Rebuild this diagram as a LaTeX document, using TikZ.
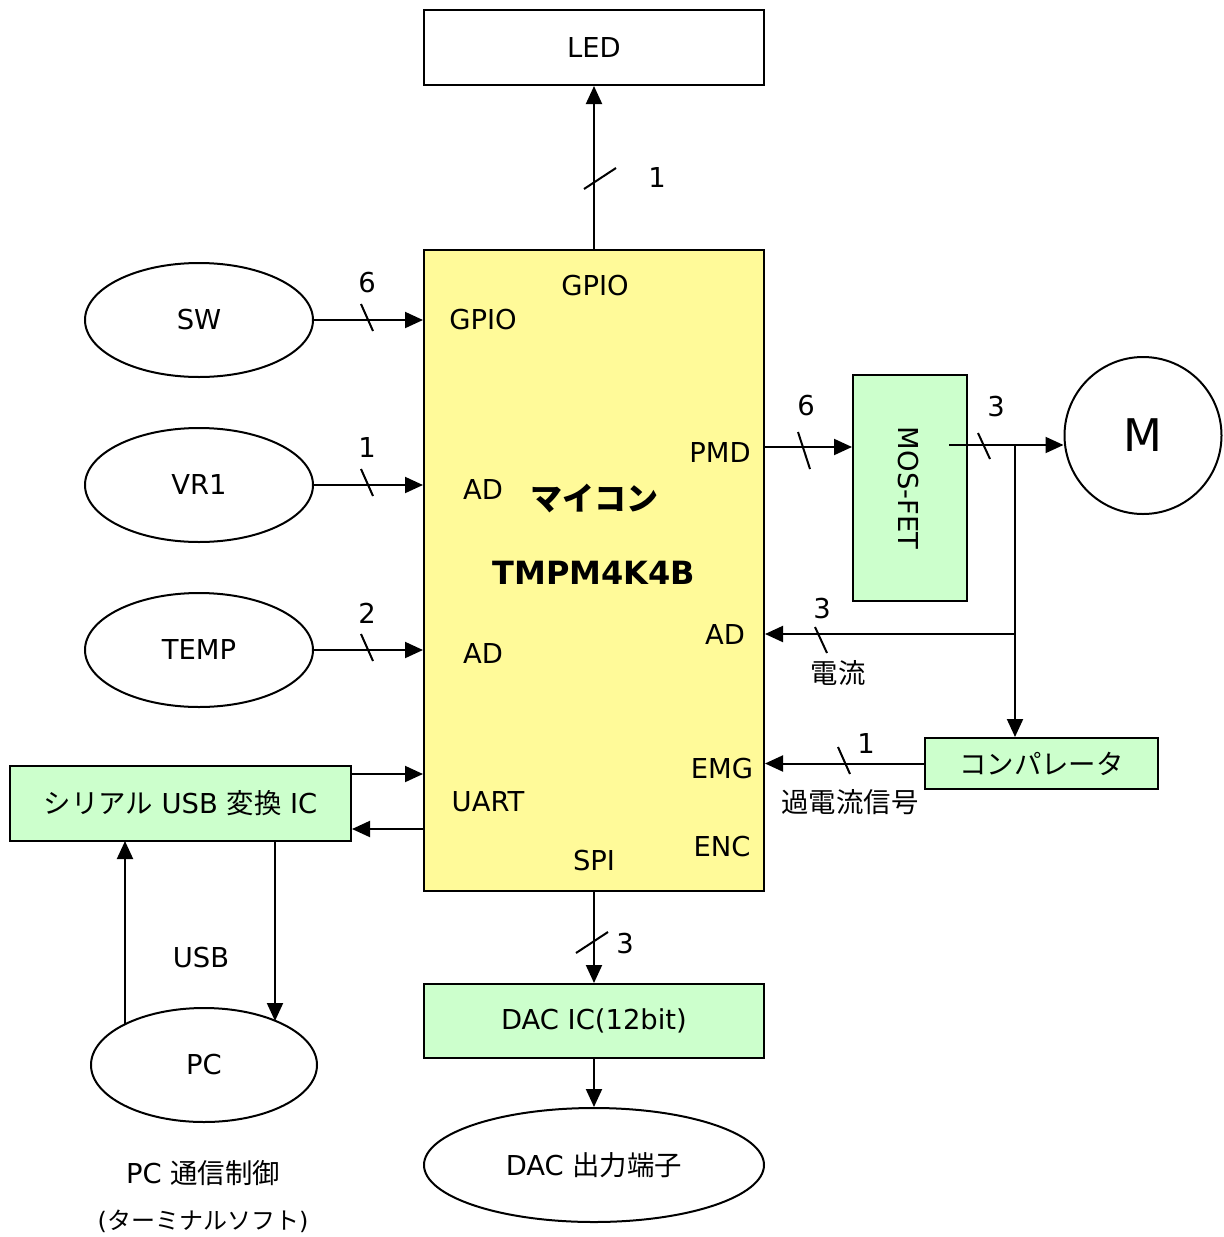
\documentclass[tikz,border=0pt]{standalone}
\usepackage{fontspec}
\setmainfont{DejaVu Sans}
\newfontfamily\jpfont{Noto Sans CJK JP}
\usetikzlibrary{shapes.geometric,arrows.meta}

\begin{document}
\begin{tikzpicture}[x=0.5pt, y=-0.5pt, line width=1pt,
    every node/.style={font=\fontsize{13.7}{16}\selectfont},
    blk/.style={draw, rectangle, inner sep=0pt},
    part/.style={blk, fill=green!20},
    oval/.style={draw, ellipse, inner sep=0pt, minimum width=114pt, minimum height=57pt},
    wire/.style={-{Triangle[length=9pt,width=8pt]}}]
    \useasboundingbox (0,0) rectangle (1223,1237);
    % Micon
    \node[blk, fill=yellow!40, minimum width=170pt, minimum height=320.5pt] (mcu) at (594,570.5) {};
    \node at (594,499) {\jpfont\bfseries\fontsize{16}{18}\selectfont マイコン};
    \node at (594,573) {\bfseries\fontsize{16}{18}\selectfont TMPM4K4B};
    \node at (595,286) {GPIO};
    \node at (483,320) {GPIO};
    \node at (483,490) {AD};
    \node at (483,654) {AD};
    \node at (488,802) {UART};
    \node at (594,861) {SPI};
    \node at (720,453) {PMD};
    \node at (725,635) {AD};
    \node at (722,769) {EMG};
    \node at (722,847) {ENC};
    % Blocks
    \node[blk, minimum width=170pt, minimum height=37.5pt] (led) at (594,47.5) {LED};
    \node[oval] (sw) at (199,320) {SW};
    \node[oval] (vr) at (199,485) {VR1};
    \node[oval] (temp) at (199,650) {TEMP};
    \node[part, minimum width=170.5pt, minimum height=37.5pt] (ser) at (180.5,803.5) {{\jpfont シリアル} USB {\jpfont 変換} IC};
    \node[oval, minimum width=113pt] (pc) at (204,1065) {PC};
    \node (pcl) at (203,1173) {PC {\jpfont 通信制御}};
    \node (pcs) at (203,1221) {\fontsize{12}{14}\selectfont ({\jpfont ターミナルソフト})};
    \node[part, minimum width=170pt, minimum height=37pt] (dac) at (594,1021) {DAC IC(12bit)};
    \node[oval, minimum width=170pt] (out) at (594,1165) {DAC {\jpfont 出力端子}};
    \node[part, minimum width=57pt, minimum height=113pt] (mos) at (910,488) {};
    \node[rotate=-90] at (908,488) {MOS-FET};
    \node[draw, circle, inner sep=0pt, minimum size=78.5pt, font=\fontsize{22.5}{24}\selectfont] (mot) at (1143,435.5) {M};
    \node[part, minimum width=116.5pt, minimum height=25.5pt] (cmp) at (1041.5,763.5) {\jpfont コンパレータ};
    % Connectors
    \draw[wire] (mcu.north) -- (led.south);
    \draw[wire] (sw.east) -- (sw.east -| mcu.west);
    \draw[wire] (vr.east) -- (vr.east -| mcu.west);
    \draw[wire] (temp.east) -- (temp.east -| mcu.west);
    \coordinate (pmd) at (764,447);
    \draw[wire] (pmd) -- (pmd -| mos.west);
    \coordinate (mosout) at (949,445);
    \draw[wire] (mosout) -- (mosout -| mot.west);
    \coordinate (jn) at (1015,445);
    \draw[wire] (jn) -- (jn |- cmp.north);
    \coordinate (br) at (1015,634);
    \draw[wire] (br) -- (br -| mcu.east);
    \draw[wire] (cmp.west) -- (cmp.west -| mcu.east);
    \coordinate (utx) at (351,774);
    \draw[wire] (utx) -- (utx -| mcu.west);
    \coordinate (urx) at (424,829);
    \draw[wire] (urx) -- (urx -| ser.east);
    \coordinate (usbd) at (275,841);
    \coordinate (pcin) at (275,1021);
    \draw[wire] (usbd) -- (pcin);
    \coordinate (pcout) at (125,1024);
    \coordinate (usbu) at (125,841);
    \draw[wire] (pcout) -- (usbu);
    \node at (201,958) {USB};
    \draw[wire] (mcu.south) -- (dac.north);
    \draw[wire] (dac.south) -- (out.north);
    % Bus widths
    \draw (584,189) -- (616,168);
    \node at (657,178) {1};
    \draw (361,304) -- (373,331);
    \node at (367,283) {6};
    \draw (361,469) -- (373,496);
    \node at (367,448) {1};
    \draw (361,634) -- (373,661);
    \node at (367,613) {2};
    \draw (798,432) -- (810,469);
    \node at (806,406) {6};
    \draw (978,433) -- (990,459);
    \node at (996,407) {3};
    \draw (815,627) -- (827,653);
    \node at (822,609) {3};
    \node at (838,673) {\jpfont 電流};
    \draw (838,747) -- (850,774);
    \node at (866,744) {1};
    \node at (850,802) {\jpfont 過電流信号};
    \draw (576,953) -- (608,932);
    \node at (625,944) {3};
\end{tikzpicture}
\end{document}
